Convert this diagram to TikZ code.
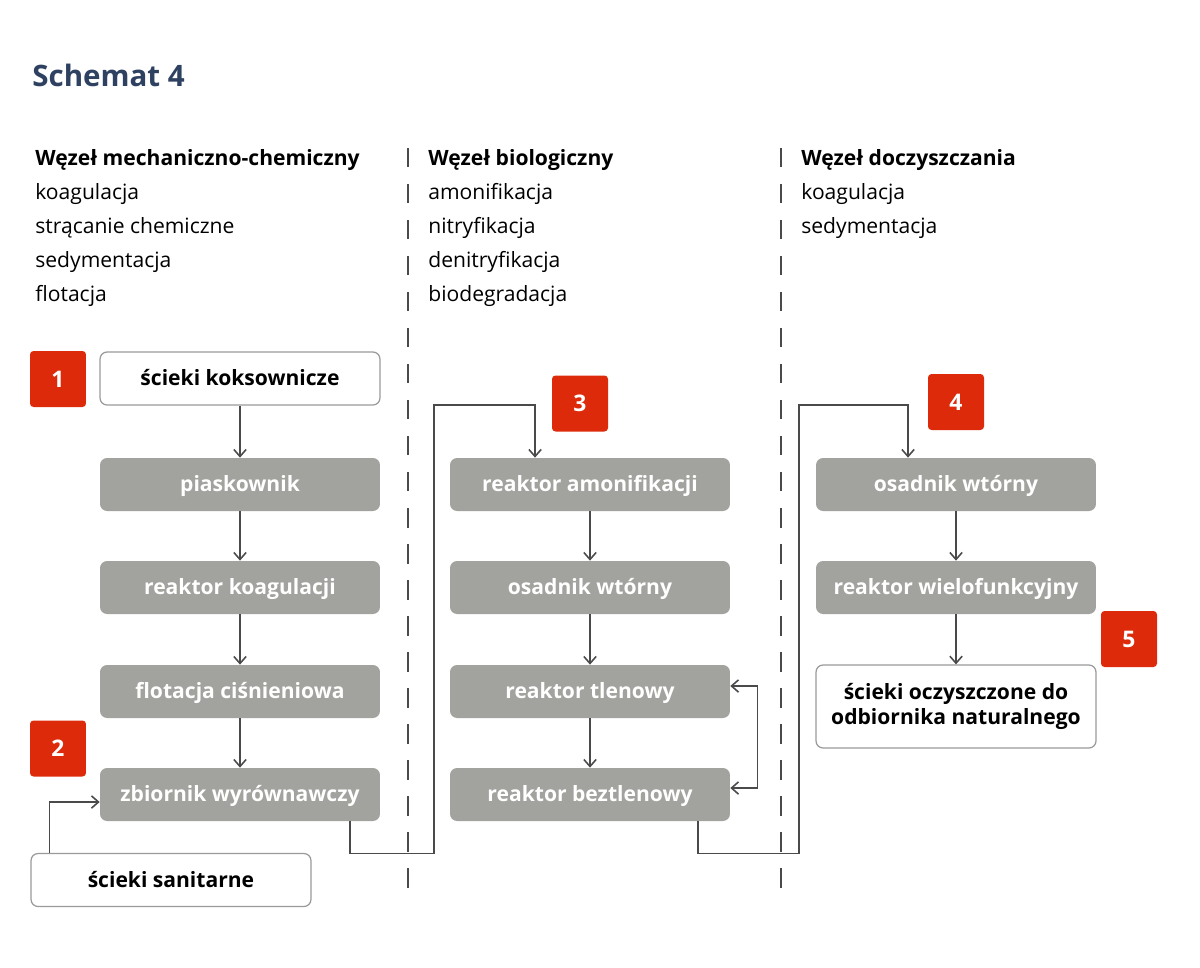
\documentclass[tikz,border=0pt]{standalone}
\usepackage{fontspec}
\setmainfont{Open Sans}
\usetikzlibrary{arrows.meta}
\definecolor{boxgray}{HTML}{A2A29E}
\definecolor{numred}{HTML}{DD2A0A}
\definecolor{titleblue}{HTML}{2E4161}
\definecolor{linegray}{HTML}{4A4A4A}
\definecolor{framegray}{HTML}{9A9A9A}
\tikzset{
  proc/.style={rectangle, rounded corners=4pt, fill=boxgray, text=white,
    font=\bfseries\fontsize{12}{14.5}\selectfont, minimum width=5.6cm,
    minimum height=1.06cm, inner sep=0pt, text height=0.95em, text depth=0.12em},
  src/.style={proc, fill=white, draw=framegray, line width=0.7pt, text=black},
  num/.style={rectangle, rounded corners=2pt, fill=numred, text=white,
    font=\bfseries\fontsize{13}{15}\selectfont, minimum size=1.12cm, inner sep=0pt},
  flow/.style={draw=linegray, line width=0.9pt, -{Straight Barb[length=4pt,width=7pt]}},
  sep/.style={draw=linegray, line width=0.9pt, dash pattern=on 11pt off 9.5pt},
  head/.style={anchor=base west, font=\bfseries\fontsize{12}{14}\selectfont, inner sep=0pt},
  item/.style={anchor=base west, font=\fontsize{12}{15}\selectfont, inner sep=0pt}
}
\begin{document}
\begin{tikzpicture}[x=0.02cm, y=-0.02cm]
    \useasboundingbox (0,0) rectangle (1200,967);

    \node[anchor=base west, inner sep=0pt, text=titleblue,
      font=\bfseries\fontsize{16.8}{20}\selectfont] (title) at (32,86) {Schemat 4};

    \node[head] (h1) at (35,165) {Węzeł mechaniczno-chemiczny};
    \node[item] (a1) at (35,199) {koagulacja};
    \node[item] (a2) at (35,233) {strącanie chemiczne};
    \node[item] (a3) at (35,267) {sedymentacja};
    \node[item] (a4) at (35,301) {flotacja};

    \node[head] (h2) at (428,165) {Węzeł biologiczny};
    \node[item] (b1) at (428,199) {amonifikacja};
    \node[item] (b2) at (428,233) {nitryfikacja};
    \node[item] (b3) at (428,267) {denitryfikacja};
    \node[item] (b4) at (428,301) {biodegradacja};

    \node[head] (h3) at (801,165) {Węzeł doczyszczania};
    \node[item] (c1) at (801,199) {koagulacja};
    \node[item] (c2) at (801,233) {sedymentacja};

    \draw[sep] (408,148) -- (408,898);
    \draw[sep] (781,148) -- (781,898);

    \node[src] (kok) at (240,378.5) {ścieki koksownicze};
    \node[proc] (pias) at (240,484.5) {piaskownik};
    \node[proc] (koag) at (240,587.5) {reaktor koagulacji};
    \node[proc] (flot) at (240,691.5) {flotacja ciśnieniowa};
    \node[proc] (zbior) at (240,794.5) {zbiornik wyrównawczy};
    \node[src] (sanit) at (171,880) {ścieki sanitarne};

    \node[proc] (amon) at (590,484.5) {reaktor amonifikacji};
    \node[proc] (osad) at (590,587.5) {osadnik wtórny};
    \node[proc] (tlen) at (590,691.5) {reaktor tlenowy};
    \node[proc] (bezt) at (590,794.5) {reaktor beztlenowy};

    \node[proc] (osad2) at (956,484.5) {osadnik wtórny};
    \node[proc] (wielo) at (956,587.5) {reaktor wielofunkcyjny};
    \node[src, minimum height=1.66cm, align=center, text height=, text depth=]
      (oczy) at (956,706.5) {ścieki oczyszczone do\\odbiornika naturalnego};

    \node[num] (n1) at (58,379) {1};
    \node[num] (n2) at (58,748.5) {2};
    \node[num] (n3) at (580,403.5) {3};
    \node[num] (n4) at (956,402) {4};
    \node[num] (n5) at (1129,639) {5};

    \draw[flow] (kok) -- (pias);
    \draw[flow] (pias) -- (koag);
    \draw[flow] (koag) -- (flot);
    \draw[flow] (flot) -- (zbior);
    \draw[flow] ([xshift=0.38cm]sanit.north west) |- ([yshift=-0.15cm]zbior.west);
    \draw[flow] ([xshift=2.2cm]zbior.south) -- ++(0,32) -| (434,405)
      -| ([xshift=-1.1cm]amon.north);

    \draw[flow] (amon) -- (osad);
    \draw[flow] (osad) -- (tlen);
    \draw[flow] (tlen) -- (bezt);
    \draw[flow, {Straight Barb[length=4pt,width=7pt]}-{Straight Barb[length=4pt,width=7pt]}]
      ([yshift=0.11cm]tlen.east) -- ++(27,0) |- ([yshift=0.13cm]bezt.east);
    \draw[flow] ([xshift=2.16cm]bezt.south) -- ++(0,32) -| (799,405)
      -| ([xshift=-0.96cm]osad2.north);

    \draw[flow] (osad2) -- (wielo);
    \draw[flow] (wielo) -- (oczy);
\end{tikzpicture}
\end{document}
